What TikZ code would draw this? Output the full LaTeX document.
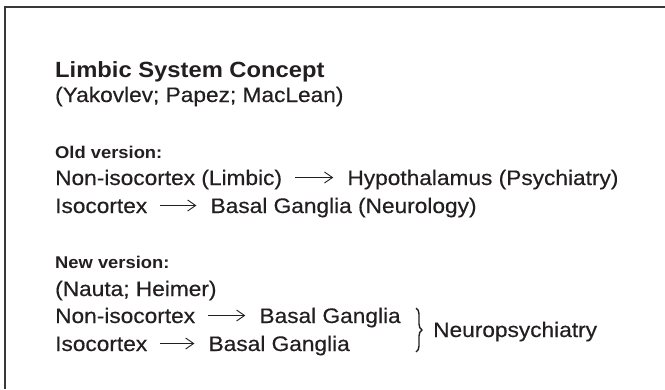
\documentclass[tikz,border=0pt]{standalone}
\usepackage{fontspec}
\setmainfont{Liberation Sans}[FakeStretch=1.08,UprightFeatures={FakeBold=0.4}]
\usetikzlibrary{positioning,arrows.meta,decorations.pathreplacing}
\definecolor{ink}{HTML}{231F20}

\begin{document}
\begin{tikzpicture}[x=1pt,y=-1pt,
    txt/.style={inner sep=0pt,anchor=base west,text height=15pt,text depth=0pt,
      font=\fontsize{21}{25}\selectfont,text=ink},
    head/.style={txt,font=\bfseries\fontsize{22}{26}\selectfont},
    sub/.style={txt,font=\bfseries\fontsize{17}{20}\selectfont},
    arr/.style={draw=ink,line width=0.9pt,-{Straight Barb[length=8pt,width=11pt]},
      shorten <=13pt,shorten >=14pt},
    brc/.style={draw=ink,line width=1.4pt,decorate,decoration={brace,amplitude=6pt}}]
  \useasboundingbox (0,0) rectangle (665,389);
  \draw[line width=1.5pt,color=black!78] (665,7) -- (5,7) -- (5,389);

  \node[head] (title) at (55,77) {Limbic System Concept};
  \node[txt] (names) at (55,102) {(Yakovlev; Papez; MacLean)};

  % old version
  \node[sub] (oldv) at (55,158) {Old version:};
  \node[txt] (oa) at (55,185) {Non-isocortex (Limbic)};
  \node[txt,right=65pt of oa] (ob) {Hypothalamus (Psychiatry)};
  \node[txt] (pa) at (55,213) {Isocortex};
  \node[txt,right=63pt of pa] (pb) {Basal Ganglia (Neurology)};
  \draw[arr] (oa) -- (ob);
  \draw[arr] (pa) -- (pb);

  % new version
  \node[sub] (newv) at (55,268) {New version:};
  \node[txt] (names2) at (55,296) {(Nauta; Heimer)};
  \node[txt] (na) at (55,323) {Non-isocortex};
  \node[txt,right=64pt of na] (nb) {Basal Ganglia};
  \node[txt] (ia) at (55,351) {Isocortex};
  \node[txt,right=61pt of ia] (ib) {Basal Ganglia};
  \draw[arr] (na) -- (nb);
  \draw[arr] (ia) -- (ib);

  \coordinate (bt) at (416,308);
  \coordinate (bb) at (416,352);
  \draw[brc] (bt) -- (bb);
  \node[txt] (np) at (433,337) {Neuropsychiatry};
\end{tikzpicture}
\end{document}
